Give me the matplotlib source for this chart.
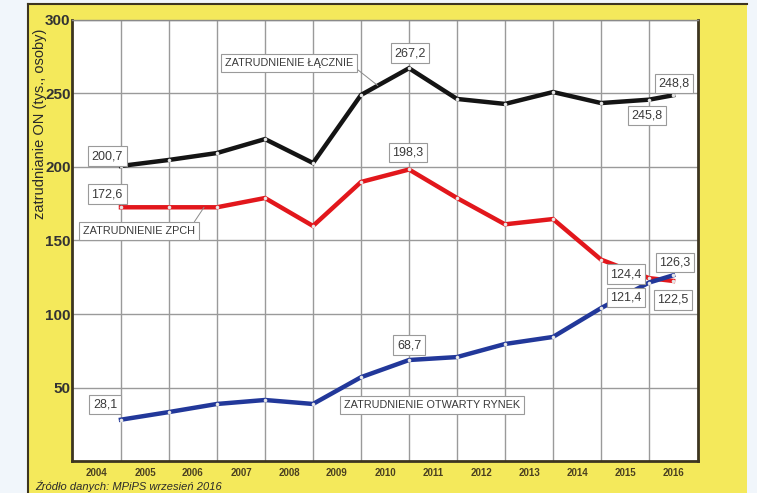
import numpy as np
import matplotlib.pyplot as plt
from matplotlib.patches import Rectangle
from matplotlib.lines import Line2D

plt.rcParams['font.family'] = ['Liberation Sans Narrow', 'Liberation Sans', 'DejaVu Sans']

# Zatrudnienie osob niepelnosprawnych (tys. osob)
lata = ['2004', '2005', '2006', '2007', '2008', '2009', '2010',
        '2011', '2012', '2013', '2014', '2015', '2016']
lacznie = [200.7, 204.8, 209.5, 219.0, 202.7, 249.0, 267.2,
           246.3, 242.9, 251.0, 243.5, 245.8, 248.8]
zpch = [172.6, 172.6, 172.6, 178.9, 159.9, 189.8, 198.3,
        178.9, 161.0, 164.6, 137.0, 124.4, 122.5]
otwarty = [28.1, 33.3, 38.8, 41.5, 38.8, 57.0, 68.7,
           70.7, 79.6, 84.4, 104.0, 121.4, 126.3]

tlo = '#f1f6fb'
zolty = '#f4e95b'
ramka = '#3d3520'

fig = plt.figure(figsize=(7.57, 4.93), dpi=100, facecolor=tlo)

# zolte tlo wykresu
W, H = 757, 493
fig.patches.append(Rectangle((28 / W, 0), (747 - 28) / W, 1 - 4 / H,
                             transform=fig.transFigure, facecolor=zolty,
                             edgecolor='none', zorder=-5))
fig.lines.append(Line2D([28 / W, 28 / W], [0, 1 - 4 / H], transform=fig.transFigure,
                        color=ramka, lw=1.5, zorder=-4))
fig.lines.append(Line2D([28 / W, 747 / W], [1 - 4 / H, 1 - 4 / H], transform=fig.transFigure,
                        color=ramka, lw=1.5, zorder=-4))

ax = fig.add_axes([72 / W, 1 - 461 / H, (698 - 72) / W, (461 - 20) / H])
ax.set_facecolor('white')

# ostatni rok lezy pol kroku za 2015
x = np.arange(len(lata), dtype=float)
x[-1] -= 0.5

serie = [(lacznie, '#141414'), (zpch, '#e2171c'), (otwarty, '#22389a')]
for y, kol in serie:
    ax.plot(x, y, color=kol, lw=3.2, solid_joinstyle='miter', zorder=3,
            marker='o', ms=2.6, mfc='#e6e6e6', mew=0)

ax.set_xlim(-1.02, 12.02)
ax.set_ylim(0, 300)

ax.set_yticks([50, 100, 150, 200, 250, 300])
ax.set_xticks(np.arange(len(lata)) - 0.5)
ax.set_xticklabels(lata)
ax.set_xticks(np.arange(12), minor=True)
ax.tick_params(axis='x', which='both', length=0, pad=5, labelsize=7, labelcolor='#4a4020')
ax.tick_params(axis='y', length=0, pad=1, labelsize=11, labelcolor='#333333')
for t in ax.get_xticklabels() + ax.get_yticklabels():
    t.set_fontweight('bold')

ax.grid(axis='y', which='major', color='#9a9a9a', lw=1.0)
ax.grid(axis='x', which='minor', color='#9a9a9a', lw=1.0)
ax.set_axisbelow(True)

for s in ['left', 'bottom', 'right']:
    ax.spines[s].set_color(ramka)
    ax.spines[s].set_linewidth(2.0)
ax.spines['top'].set_color('#8a8a8a')
ax.spines['top'].set_linewidth(1.0)

ax.set_ylabel('zatrudnianie ON (tys., osoby)', fontsize=10.5, color='#2a2a2a')
ax.yaxis.set_label_coords(-0.040, 0.765)

# etykiety wartosci
ramka_txt = dict(boxstyle='square,pad=0.3', fc='white', ec='#9a9a9a', lw=0.8)


def etykieta(dane, i, dx, dy):
    tekst = f'{dane[i]:.1f}'.replace('.', ',')
    ax.annotate(tekst, (x[i], dane[i]), xytext=(dx, dy), textcoords='offset points',
                ha='center', va='center', fontsize=9, color='#3a3a3a',
                bbox=ramka_txt, zorder=5)


etykieta(lacznie, 0, -10, 7)
etykieta(lacznie, 6, 0.7, 10.8)
etykieta(lacznie, 11, -1.4, -11.5)
etykieta(lacznie, 12, 0.7, 8.6)
etykieta(zpch, 0, -10, 9.4)
etykieta(zpch, 6, -0.7, 12.2)
etykieta(zpch, 11, -16.6, 2.9)
etykieta(zpch, 12, 0, -13.7)
etykieta(otwarty, 0, -11.5, 10.8)
etykieta(otwarty, 6, 0, 10.8)
etykieta(otwarty, 11, -16.6, -10.8)
etykieta(otwarty, 12, 1.4, 9.4)

# opisy serii
opis = dict(boxstyle='square,pad=0.35', fc='white', ec='#9a9a9a', lw=0.8)
ax.annotate('ZATRUDNIENIE ŁĄCZNIE', (5.35, np.interp(5.35, x, lacznie)),
            xytext=(3.5, 270.7), ha='center', va='center', fontsize=7.8,
            color='#3a3a3a', bbox=opis, zorder=5,
            arrowprops=dict(arrowstyle='-', color='#8a8a8a', lw=0.7,
                            shrinkA=0, shrinkB=0, relpos=(1.0, 0.2)))
ax.annotate('ZATRUDNIENIE ZPCH', (1.73, np.interp(1.73, x, zpch)),
            xytext=(0.375, 156.5), ha='center', va='center', fontsize=7.8,
            color='#3a3a3a', bbox=opis, zorder=5,
            arrowprops=dict(arrowstyle='-', color='#8a8a8a', lw=0.7,
                            shrinkA=0, shrinkB=0, relpos=(0.97, 1.0)))
ax.annotate('ZATRUDNIENIE OTWARTY RYNEK', (6.48, 38.1), ha='center', va='center',
            fontsize=7.8, color='#3a3a3a', bbox=opis, zorder=5)

fig.text(35 / W, 1 - 480 / H, 'Źródło danych: MPiPS wrzesień 2016', fontsize=8,
         style='italic', color='#2a2a2a', ha='left', va='top')

plt.savefig('out.png', dpi=100, facecolor=tlo)
